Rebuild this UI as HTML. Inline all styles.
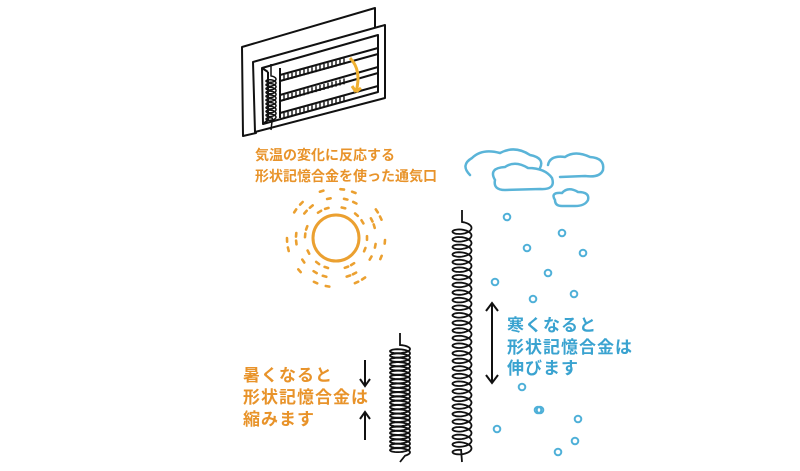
<!DOCTYPE html>
<html><head><meta charset="utf-8"><style>
body{margin:0;background:#fff;width:800px;height:471px;overflow:hidden}
svg{position:absolute;left:0;top:0}
.t{font-family:"Liberation Sans","Noto Sans CJK JP",sans-serif;font-weight:bold}
</style></head><body>
<svg id="s" width="800" height="471" viewBox="0 0 800 471">
<g fill="none" stroke="#111" stroke-width="2" stroke-linejoin="round">
<polygon points="242,47 375,8 375,30 255,63 256,133 243,136" fill="#fff"/>
<polygon points="253,62 385,25 385,98 255,132" fill="#fff"/>
<polygon points="262,68 378,35 378,92 263,124"/>
<line x1="262" y1="68" x2="268" y2="72"/><line x1="263" y1="124" x2="268" y2="120"/>
<line x1="268" y1="72" x2="268" y2="120"/>
<line x1="280" y1="68" x2="280" y2="118"/>
<polyline points="280,75 378,48"/><polyline points="280,81 378,54"/>
<polyline points="280,95 378,67"/><polyline points="280,101 378,73"/>
<polyline points="280,113 378,86"/>
<path id="ventcoil" stroke-width="1.5"/>
<path id="fins" stroke-width="1.4"/>
</g>
<path d="M350,58 Q362,70 356,92 M356,92 l-4,-6 M356,92 l5,-4" stroke="#f0b030" stroke-width="3" fill="none"/>
<text class="t" x="255" y="160" font-size="14" fill="#e8932a">気温の変化に反応する</text>
<text class="t" x="255" y="181" font-size="14" fill="#e8932a">形状記憶合金を使った通気口</text>
<g fill="none" stroke="#5ab4d8" stroke-width="2.5" stroke-linecap="round">
<path d="M470,175 Q460,165 472,158 Q482,148 500,153 Q515,145 530,155 Q545,158 540,168"/>
<path d="M495,180 Q488,168 505,167 Q515,160 528,168 Q545,168 552,178 Q556,190 540,189 L505,190 Q493,190 495,180Z"/>
<path d="M548,165 Q550,155 565,157 Q575,150 590,157 Q605,158 603,170 Q600,178 585,176 L560,177"/>
<path d="M555,200 Q550,192 562,193 Q568,186 578,192 Q590,192 588,200 Q585,206 575,206 L562,206 Q555,206 555,200Z"/>
</g>
<g id="dots" fill="none" stroke="#4fb0d8" stroke-width="2"></g>
<g id="sun" stroke="#eba030" fill="none" stroke-width="3" stroke-linecap="round">
<circle cx="336" cy="238" r="23"/>
</g>
<g id="springs" fill="none" stroke="#111" stroke-width="1.8"></g>
<g stroke="#111" stroke-width="2" fill="none">
<line x1="492" y1="304" x2="492" y2="382"/><path d="M486,311 L492,303 L498,311 M486,375 L492,383 L498,375"/>
<line x1="365" y1="360" x2="365" y2="385"/><path d="M360,379 L365,386 L370,379"/>
<line x1="365" y1="412" x2="365" y2="440"/><path d="M360,419 L365,412 L370,419"/>
</g>
<text class="t" x="507" y="331" font-size="17" fill="#3aa3d0" letter-spacing="1">寒くなると</text>
<text class="t" x="507" y="353" font-size="17" fill="#3aa3d0" letter-spacing="1">形状記憶合金は</text>
<text class="t" x="507" y="374" font-size="17" fill="#3aa3d0" letter-spacing="1">伸びます</text>
<text class="t" x="243" y="381" font-size="17" fill="#e8932a" letter-spacing="1">暑くなると</text>
<text class="t" x="243" y="403" font-size="17" fill="#e8932a" letter-spacing="1">形状記憶合金は</text>
<text class="t" x="243" y="425" font-size="17" fill="#e8932a" letter-spacing="1">縮みます</text>
</svg>
<script>
var NS="http://www.w3.org/2000/svg";
function coil(cx,y0,y1,a,pitch,c){var d="M"+cx+","+(y0-12)+" L"+cx+","+y0;var n=(y1-y0)/pitch*2*Math.PI;
for(var t=0;t<=n;t+=0.2){var x=cx+a*Math.sin(t),y=y0+t*pitch/(2*Math.PI)-c*Math.cos(t)+c;d+=" L"+x.toFixed(1)+","+y.toFixed(1);}
d+=" L"+cx+","+(y1+12);return d;}
var sp=document.getElementById("springs");
[[462,222,450,9.5,7.6,4],[400,345,450,10,4.3,3]].forEach(function(p){var e=document.createElementNS(NS,"path");e.setAttribute("d",coil.apply(null,p));sp.appendChild(e);});
document.getElementById("ventcoil").setAttribute("d",coil(271,76,118,5,3.8,2.2));
var f="";for(var i=0;i<3;i++){var yb=[75,95,113][i];for(var x=284;x<345;x+=4){var y=yb-(x-280)*27/98;f+="M"+x+","+(y+1)+" l0,"+(i==2?5:6)+" ";}}
document.getElementById("fins").setAttribute("d",f);
var dots=[[507,217],[562,233],[527,248],[583,253],[548,273],[495,282],[533,299],[574,294],[522,387],[538,410],[578,419],[497,429],[558,452],[540,410],[575,441]];
var dg=document.getElementById("dots");dots.forEach(function(p){var c=document.createElementNS(NS,"circle");c.setAttribute("cx",p[0]);c.setAttribute("cy",p[1]);c.setAttribute("r",3.3);dg.appendChild(c);});
var sg=document.getElementById("sun");[[31,14,0],[40,16,0.5],[49,16,0.2]].forEach(function(r){for(var i=0;i<r[1];i++){var a=(i+r[2])/r[1]*2*Math.PI+0.12*Math.sin(i*3.7),l=1.8;var x=336+r[0]*Math.cos(a),y=238+r[0]*Math.sin(a);
var e=document.createElementNS(NS,"line");e.setAttribute("x1",(x-l*Math.sin(a)).toFixed(1));e.setAttribute("y1",(y+l*Math.cos(a)).toFixed(1));e.setAttribute("x2",(x+l*Math.sin(a)).toFixed(1));e.setAttribute("y2",(y-l*Math.cos(a)).toFixed(1));e.setAttribute("stroke-width","2.6");sg.appendChild(e);}});
</script>
</body></html>
